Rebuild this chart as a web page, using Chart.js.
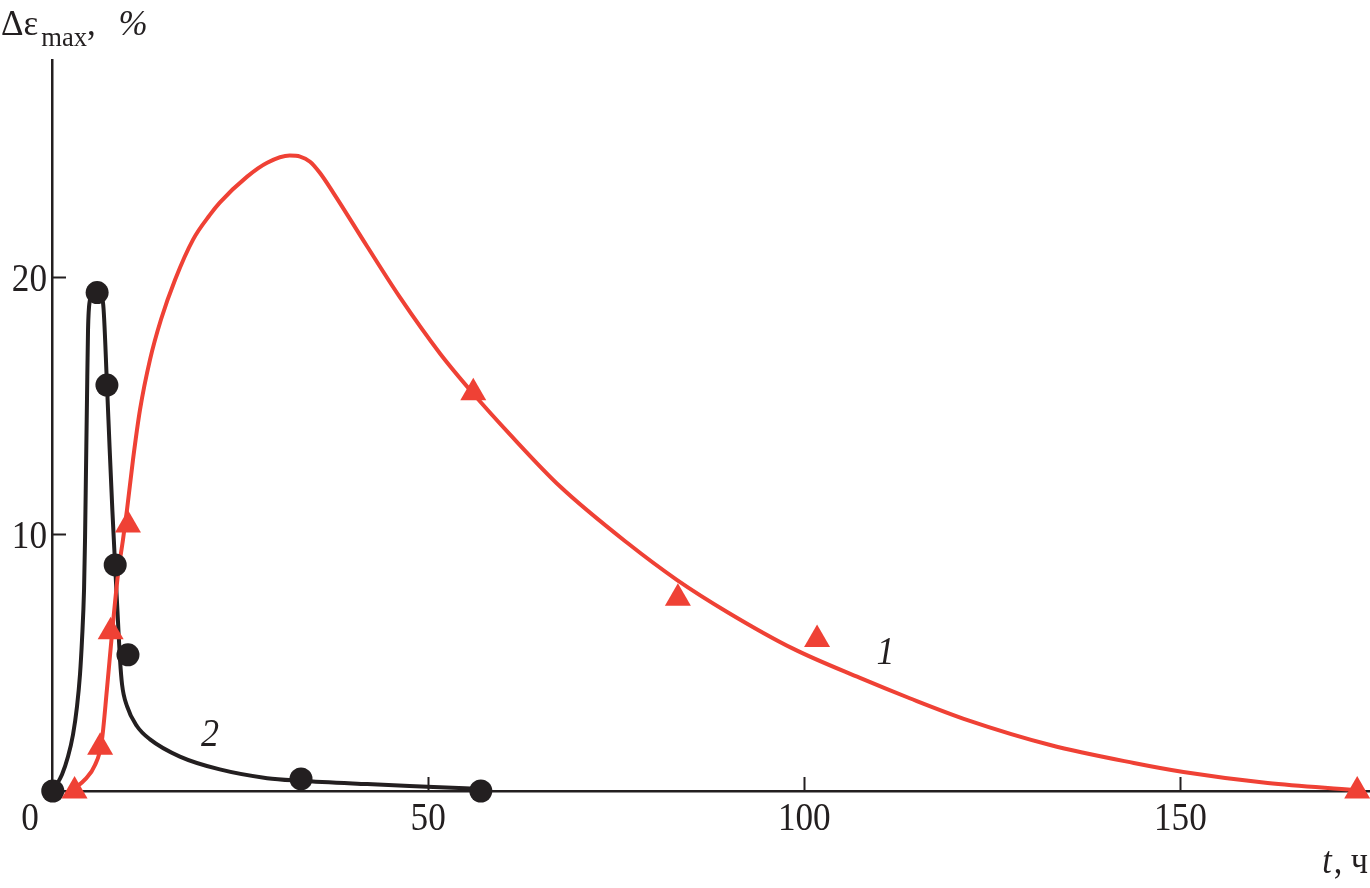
<!DOCTYPE html>
<html>
<head>
<meta charset="utf-8">
<script src="https://cdn.jsdelivr.net/npm/chart.js@4.4.1/dist/chart.umd.min.js"></script>
<style>
  html, body { margin: 0; padding: 0; background: #fff; }
</style>
</head>
<body>
<canvas id="grafico" width="1370" height="888"></canvas>
<script>
// Datos: curva 1 (triángulos rojos) y curva 2 (círculos negros)
const tiempo1 = [3.0, 6.4, 7.8, 10.1, 56.0, 83.2, 101.7, 173.5];
const deform1 = [0, 1.7, 6.2, 10.35, 15.5, 7.5, 5.9, 0];

const tiempo2 = [0.1, 6.0, 7.3, 8.4, 10.1, 33.1, 57.0];
const deform2 = [0, 19.4, 15.8, 8.8, 5.3, 0.47, 0];

// Trazado de las curvas suavizadas (puntos leídos sobre la línea)
const curva1T = [3.0, 4.4, 5.7, 6.6, 7.3, 8.0, 8.8, 9.44, 9.97, 10.77, 11.7, 13.03, 14.49, 16.36, 18.75, 21.01, 22.3, 25.9, 28.6, 31.6, 32.98, 34.3, 35.6, 37.4, 41.9, 46.28, 51.6, 55.98, 60.9, 67.55, 76.5, 83.1, 89.8, 98.5, 107.4, 114.1, 121.7, 132.7, 143.8, 150.4, 161.6, 173.0];
const curva1Y = [0.1, 0.45, 1.0, 1.9, 3.95, 6.2, 8.5, 9.79, 10.95, 12.9, 14.84, 16.79, 18.35, 19.9, 21.46, 22.43, 22.9, 23.9, 24.45, 24.73, 24.69, 24.49, 24.06, 23.28, 21.19, 19.2, 17.02, 15.47, 13.87, 11.85, 9.65, 8.21, 6.96, 5.54, 4.4, 3.6, 2.76, 1.79, 1.09, 0.74, 0.31, 0.04];

const curva2T = [0.4, 1.33, 2.13, 2.79, 3.32, 3.72, 3.99, 4.26, 4.39, 4.52, 4.65, 4.79, 5.05, 5.45, 5.98, 6.78, 7.31, 7.65, 8.02, 8.38, 8.78, 9.04, 9.31, 9.97, 11.3, 13.03, 17.0, 22.3, 28.6, 33.0, 41.9, 50.7, 57.0];
const curva2Y = [0.14, 0.64, 1.34, 2.19, 3.28, 4.53, 5.89, 7.84, 9.79, 12.51, 15.23, 17.96, 19.13, 19.44, 19.52, 19.0, 15.8, 13.4, 10.95, 8.85, 6.55, 5.12, 4.15, 3.3, 2.52, 2.01, 1.34, 0.84, 0.5, 0.4, 0.27, 0.16, 0.08];

const ticksX = [50, 100, 150];
const ticksY = [10, 20];

// Posición de las etiquetas "1" y "2" en coordenadas de datos
const etiqueta1 = { t: 110.8, y: 5.47, texto: '1' };
const etiqueta2 = { t: 21.0, y: 2.28, texto: '2' };

const ROJO = '#EF4135';
const NEGRO = '#231F20';
const FUENTE = '"Liberation Serif", "Times New Roman", serif';

function aPuntos(xs, ys) {
    return xs.map((x, i) => ({ x: x, y: ys[i] }));
}

// Texto con compresión horizontal (la tipografía original es algo estrecha)
function texto(ctx, str, x, y, font, align, escalaX) {
    ctx.save();
    ctx.font = font;
    ctx.textAlign = align;
    ctx.textBaseline = 'alphabetic';
    ctx.translate(x, y);
    ctx.scale(escalaX, 1);
    ctx.fillText(str, 0, 0);
    ctx.restore();
    ctx.font = font;
    return ctx.measureText(str).width * escalaX;
}

const pluginEjes = {
    id: 'pluginEjes',
    beforeDatasetsDraw(chart) {
        const ctx = chart.ctx;
        const sx = chart.scales.x, sy = chart.scales.y;
        const y0 = sy.getPixelForValue(0), x0 = sx.getPixelForValue(0);
        ctx.save();
        ctx.strokeStyle = NEGRO;
        ctx.lineWidth = 2;
        ticksX.forEach(v => {
            const px = Math.round(sx.getPixelForValue(v)) + 0.5;
            ctx.beginPath(); ctx.moveTo(px, y0); ctx.lineTo(px, y0 - 14); ctx.stroke();
        });
        ticksY.forEach(v => {
            const py = Math.round(sy.getPixelForValue(v)) + 0.5;
            ctx.beginPath(); ctx.moveTo(x0, py); ctx.lineTo(x0 + 14, py); ctx.stroke();
        });
        ctx.restore();
    },
    afterDraw(chart) {
        const ctx = chart.ctx;
        const sx = chart.scales.x, sy = chart.scales.y;
        ctx.save();
        ctx.fillStyle = NEGRO;
        const fNum = '40px ' + FUENTE;
        ticksX.forEach(v => texto(ctx, String(v), sx.getPixelForValue(v), 830, fNum, 'center', 0.88));
        ticksY.forEach(v => texto(ctx, String(v), 47, sy.getPixelForValue(v) + 14, fNum, 'right', 0.88));
        texto(ctx, '0', 30, 830, fNum, 'center', 0.88);

        // Título del eje Y: Δε_max, %
        let xt = 1;
        xt += texto(ctx, 'Δε', xt, 35, '35px ' + FUENTE, 'left', 1);
        xt += 3;
        xt += texto(ctx, 'max', xt, 46, '28px ' + FUENTE, 'left', 0.95);
        xt += texto(ctx, ', ', xt, 35, '35px ' + FUENTE, 'left', 1);
        texto(ctx, '%', xt + 14, 35, 'italic 35px ' + FUENTE, 'left', 1);

        // Título del eje X: t, ч
        ctx.font = '38px ' + FUENTE;
        const anchoResto = ctx.measureText(', ч').width * 0.9;
        texto(ctx, ', ч', 1368, 873, '38px ' + FUENTE, 'right', 0.9);
        texto(ctx, 't', 1368 - anchoResto - 2, 873, 'italic 38px ' + FUENTE, 'right', 0.9);

        // Números de las curvas
        [etiqueta1, etiqueta2].forEach(e => {
            texto(ctx, e.texto, sx.getPixelForValue(e.t), sy.getPixelForValue(e.y) + 14, 'italic 40px ' + FUENTE, 'center', 0.9);
        });
        ctx.restore();
    }
};

new Chart(document.getElementById('grafico'), {
    type: 'scatter',
    data: {
        datasets: [
            {
                label: '1 puntos',
                data: aPuntos(tiempo1, deform1),
                pointStyle: 'triangle',
                pointRadius: 15,
                pointBackgroundColor: ROJO,
                pointBorderWidth: 0,
                showLine: false,
                clip: false,
                order: 0
            },
            {
                label: '2 puntos',
                data: aPuntos(tiempo2, deform2),
                pointStyle: 'circle',
                pointRadius: 11.5,
                pointBackgroundColor: NEGRO,
                pointBorderWidth: 0,
                showLine: false,
                clip: false,
                order: 0
            },
            {
                label: '1',
                data: aPuntos(curva1T, curva1Y),
                showLine: true,
                borderColor: ROJO,
                borderWidth: 4,
                pointRadius: 0,
                cubicInterpolationMode: 'monotone',
                clip: false,
                order: 1
            },
            {
                label: '2',
                data: aPuntos(curva2T, curva2Y),
                showLine: true,
                borderColor: NEGRO,
                borderWidth: 4,
                pointRadius: 0,
                cubicInterpolationMode: 'monotone',
                clip: false,
                order: 2
            }
        ]
    },
    options: {
        responsive: false,
        animation: false,
        layout: { autoPadding: false, padding: { left: 52, top: 60, right: 0, bottom: 97 } },
        plugins: { legend: { display: false }, tooltip: { enabled: false } },
        scales: {
            x: {
                type: 'linear', min: 0, max: 175.2,
                ticks: { display: false },
                grid: { display: false, drawTicks: false },
                border: { display: true, color: NEGRO, width: 2.5 }
            },
            y: {
                type: 'linear', min: 0, max: 28.45,
                ticks: { display: false },
                grid: { display: false, drawTicks: false },
                border: { display: true, color: NEGRO, width: 2.5 }
            }
        }
    },
    plugins: [pluginEjes]
});
</script>
</body>
</html>
